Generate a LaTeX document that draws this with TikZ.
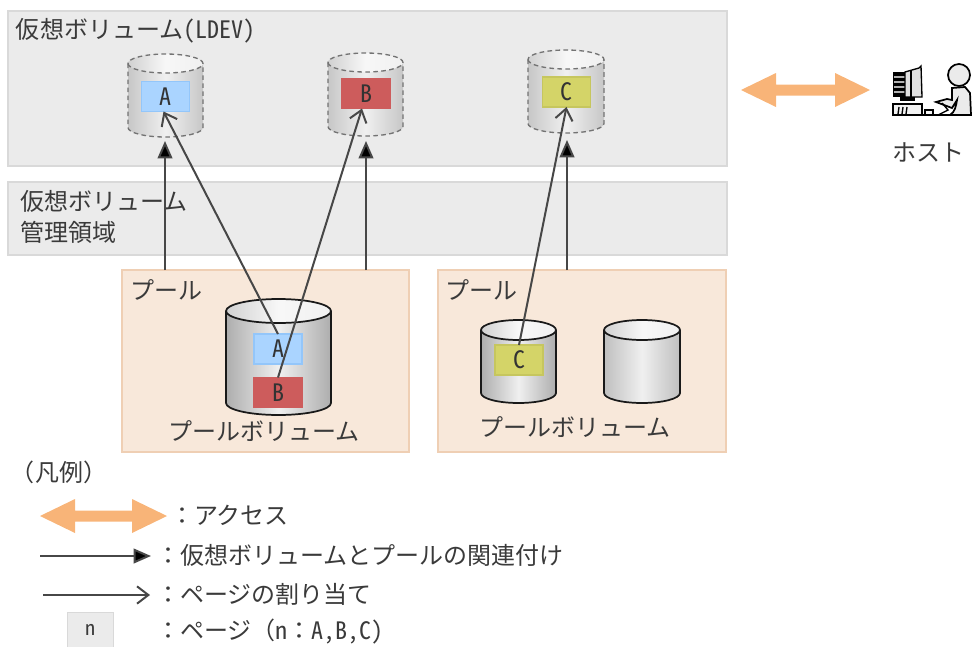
\documentclass[tikz,border=0pt]{standalone}
\usepackage{fontspec}
\setmainfont{Noto Sans CJK JP}
\newfontfamily\hwfont[RawFeature=+hwid]{Noto Sans CJK JP}
\newcommand{\hw}[1]{{\hwfont #1}}
\usetikzlibrary{arrows.meta,calc}
\definecolor{panelgray}{HTML}{EBEBEB}
\definecolor{panelline}{HTML}{D9D9D9}
\definecolor{poolfill}{HTML}{F8E8DA}
\definecolor{poolline}{HTML}{EFCFB4}
\definecolor{accessor}{HTML}{F8B478}
\definecolor{pageblue}{HTML}{AAD4FF}
\definecolor{pageblueline}{HTML}{93C6FA}
\definecolor{pagered}{HTML}{CD5C5C}
\definecolor{pageyellow}{HTML}{D4D468}
\definecolor{pageyellowline}{HTML}{C6C65E}
\definecolor{txt}{HTML}{3A3A3A}
\tikzset{
  x=0.75pt,y=-0.75pt,
  every node/.style={inner sep=0pt,outer sep=0pt,text=txt,font=\fontsize{18pt}{20pt}\selectfont},
  panel/.style={draw=panelline,fill=panelgray,line width=1.2pt},
  poolbox/.style={draw=poolline,fill=poolfill,line width=1pt},
  pagebox/.style={minimum width=36pt,minimum height=22.5pt,line width=1pt,text=black!80},
  bluepage/.style={pagebox,fill=pageblue,draw=pageblueline},
  redpage/.style={pagebox,fill=pagered,draw=pagered},
  yellowpage/.style={pagebox,fill=pageyellow,draw=pageyellowline},
  assoc/.style={line width=1.5pt,draw=black!72,-{Triangle[length=13pt,width=11pt,fill=black]}},
  alloc/.style={line width=1.5pt,draw=black!72,-{Straight Barb[length=8.5pt,width=13pt,line width=1.5pt]}},
  txtleft/.style={anchor=west},
  cylline/.style={draw=black!90,line width=1.3pt},
  cyldash/.style={draw=black!55,line width=1pt,dash pattern=on 3.5pt off 2.5pt},
}
% #1 x-left #2 x-right #3 y-top #4 y-bottom #5 ry #6 line style #7 edge colour
\newcommand{\cylinder}[7]{%
  \pgfmathsetmacro{\rx}{(#2-#1)/2}%
  \pgfmathsetmacro{\yca}{#3+#5}%
  \pgfmathsetmacro{\ycb}{#4-#5}%
  \path[left color=#7,right color=#7,middle color=black!6]
    (#1,\yca) -- (#1,\ycb) arc[start angle=180,end angle=0,x radius=\rx,y radius=#5]
    -- (#2,\yca) arc[start angle=0,end angle=-180,x radius=\rx,y radius=#5] -- cycle;
  \draw[#6] (#1,\yca) -- (#1,\ycb) arc[start angle=180,end angle=0,x radius=\rx,y radius=#5] -- (#2,\yca);
  \draw[#6,left color=black!18,right color=black!6,middle color=black!3]
    (#1,\yca) arc[start angle=180,end angle=-180,x radius=\rx,y radius=#5] -- cycle;
}
\newcommand{\accessarrow}[3]{%
  \fill[accessor] (#1,#3) -- ({#1+35},{#3-17}) -- ({#1+35},{#3-5.5}) -- ({#2-35},{#3-5.5}) -- ({#2-35},{#3-17})
    -- (#2,#3) -- ({#2-35},{#3+17}) -- ({#2-35},{#3+5.5}) -- ({#1+35},{#3+5.5}) -- ({#1+35},{#3+17}) -- cycle;
}
\begin{document}
\begin{tikzpicture}
\useasboundingbox (0,0) rectangle (973,646);
% panels
\node[panel,minimum width=539.25pt,minimum height=116.25pt] (virt) at (367.5,88.5) {};
\node[panel,minimum width=539.25pt,minimum height=54.75pt] (mgmt) at (367.5,218.5) {};
\node[poolbox,minimum width=215.25pt,minimum height=136.5pt] (pool1) at (265.5,361) {};
\node[poolbox,minimum width=216pt,minimum height=136.5pt] (pool2) at (582,361) {};
% labels in panels
\node[txtleft] (tvirt) at (16,31) {仮想ボリューム\hw{(LDEV)}};
\node[txtleft] (tmg1) at (20,201) {仮想ボリューム};
\node[txtleft] (tmg2) at (20,232) {管理領域};
\node[txtleft] (tp1) at (130,290) {プール};
\node[txtleft] (tp2) at (445,290) {プール};
% virtual cylinders
\cylinder{128}{203}{54}{137}{9.5}{cyldash}{black!22}
\cylinder{328}{403}{53}{136}{9.5}{cyldash}{black!22}
\cylinder{528}{604}{50}{133}{9.5}{cyldash}{black!22}
% pool cylinders
\cylinder{226}{331}{299}{415}{12}{cylline}{black!32}
\cylinder{481}{556}{320}{403}{10}{cylline}{black!32}
\cylinder{604}{680}{320}{403}{10}{cylline}{black!25}
% pages
\node[bluepage] (vA) at (165.5,96.5) {\hw{A}};
\node[redpage] (vB) at (366,93.5) {\hw{B}};
\node[yellowpage] (vC) at (566.5,92) {\hw{C}};
\node[bluepage] (pA) at (278,349) {\hw{A}};
\node[redpage] (pB) at (278,392.5) {\hw{B}};
\node[yellowpage] (pC) at (519,360) {\hw{C}};
% pool volume labels
\node (tv1) at (264,431) {プールボリューム};
\node (tv2) at (575,427) {プールボリューム};
% connectors
\coordinate (ta) at (165,141);
\coordinate (tb) at (366,141);
\coordinate (tc) at (567,140);
\draw[assoc] (pool1.north -| ta) -- (ta);
\draw[assoc] (pool1.north -| tb) -- (tb);
\draw[assoc] (pool2.north -| tc) -- (tc);
\draw[alloc] (pA.north) -- ([xshift=-1.5pt]vA.south);
\draw[alloc] (pB.north) -- ([xshift=-3pt]vB.south);
\draw[alloc] (pC.north) -- (vC.south);
% access
\accessarrow{741}{870}{90}
% host
\begin{scope}[line width=1pt,draw=black]
  \fill[black] (893,72) rectangle (906,97);
  \foreach \yy in {76,81,86,91} {\fill[black!30] (894,\yy) rectangle (905,{\yy+2});}
  \draw[fill=black!12] (905,72) -- (919,68) -- (921,66) -- (922,97) -- (905,97) -- cycle;
  \draw (911,71) -- (911,97);
  \fill[black] (900,97) rectangle (915,101);
  \draw[line width=1.3pt,fill=black!5] (893,104) rectangle (922,115);
  \draw (899,107) -- (898,114) (903,107) -- (902,114) (907,107) -- (906,114);
  \draw[line width=1.3pt] (893,115) -- (970,115);
  \draw[fill=black!4] (925,110) rectangle (933,115);
  \draw[line width=1.3pt,fill=black!8] (959,75) circle[radius=11];
  \draw[line width=1.3pt,fill=black!8] (952,88) -- (965,87) -- (970,93) -- (971,115) -- (950,115)
     .. controls (955,112) and (956,106) .. (957,100) -- (952,108) -- (936,102) -- (947,99) -- (952,100) -- cycle;
  \draw (942,103) -- (948,110) -- (938,115);
\end{scope}
\node (thost) at (928,152) {ホスト};
% legend
\node[txtleft] (tleg) at (11,472) {（凡例）};
\accessarrow{40}{167}{516}
\node[txtleft] (l1) at (170,515) {：アクセス};
\coordinate (a1) at (40,556);
\coordinate (a2) at (151,556);
\draw[assoc] (a1) -- (a2);
\node[txtleft] (l2) at (156,555) {：仮想ボリュームとプールの関連付け};
\coordinate (b1) at (43,595);
\coordinate (b2) at (150,595);
\draw[alloc] (b1) -- (b2);
\node[txtleft] (l3) at (156,594) {：ページの割り当て};
\node[panel,minimum width=34.5pt,minimum height=26pt] (lbox) at (90.5,630) {\fontsize{15pt}{15pt}\selectfont\hw{n}};
\node[txtleft] (l4) at (156,632) {：ページ（\hw{n}：\hw{A,B,C}\hw{)}};
\end{tikzpicture}
\end{document}
